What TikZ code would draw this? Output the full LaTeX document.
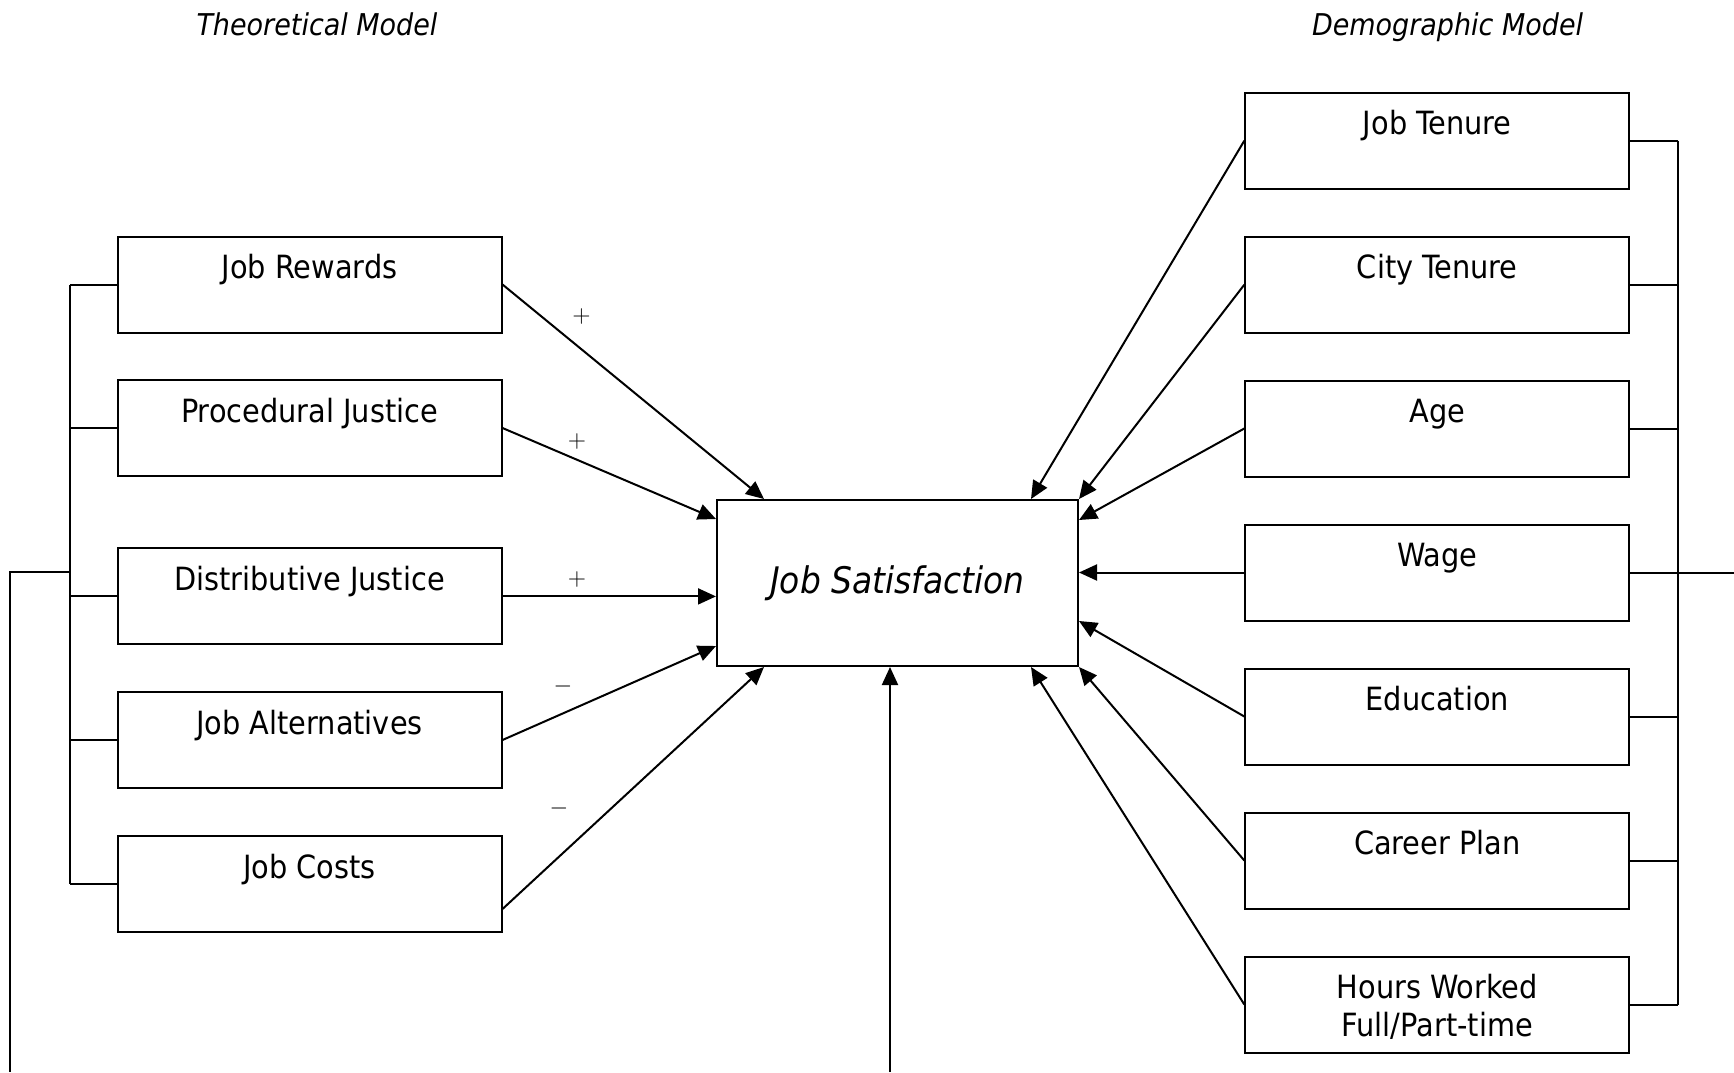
\documentclass[tikz,border=0pt]{standalone}
\usepackage{fontspec}
\setmainfont{DejaVu Sans Condensed}
\usepackage{tikz}
\usetikzlibrary{calc,positioning,arrows.meta}

\begin{document}
\begin{tikzpicture}[x=0.5pt, y=-0.5pt,
    box/.style={draw, line width=1pt, minimum width=192pt, inner sep=0pt, align=center,
        anchor=north, text height=21pt, text depth=27pt, font=\fontsize{16}{19}\selectfont},
    link/.style={line width=1pt},
    arr/.style={line width=1pt, -{Triangle[length=9pt, width=8pt]}},
    sign/.style={inner sep=0pt, font=\fontsize{13}{15}\selectfont}]
    \useasboundingbox (0,0) rectangle (1734,1072);

    % Parameters
    \def\xLeft{309.5}
    \def\xRight{1437.3}
    \coordinate (BrL) at (70,0);
    \coordinate (BrR) at (1678,0);

    % Titles
    \node[anchor=base, font=\itshape\fontsize{15}{18}\selectfont] (TTheo) at (317,35.7) {Theoretical Model};
    \node[anchor=base, font=\itshape\fontsize{15}{18}\selectfont] (TDemo) at (1447.6,35.7) {Demographic Model};

    % Centre node
    \node[draw, line width=1pt, minimum width=180.5pt, minimum height=83pt, inner sep=0pt,
        font=\itshape\fontsize{18.3}{22}\selectfont] (JS) at (897.5,583) {Job Satisfaction};

    % Theoretical nodes
    \foreach \top/\nm/\txt in {235.5/JR/Job Rewards, 379/PJ/Procedural Justice,
        547.4/DJ/Distributive Justice, 691/JA/Job Alternatives, 835/JC/Job Costs} {
        \node[box] (\nm) at (\xLeft,\top) {\txt};
    }

    % Demographic nodes
    \foreach \top/\nm/\txt in {91.7/JT/Job Tenure, 235.7/CT/City Tenure, 379.5/AG/Age,
        523.5/WG/Wage, 667.5/ED/Education, 811.5/CP/Career Plan} {
        \node[box] (\nm) at (\xRight,\top) {\txt};
    }
    \node[box, text height=40pt, text depth=8pt] (HW) at (\xRight,955.5) {Hours Worked\\Full/Part-time};

    % Signs
    \node[sign] (s1) at (581.5,316) {$+$};
    \node[sign] (s2) at (577,441) {$+$};
    \node[sign] (s3) at (577,579) {$+$};
    \node[sign] (s4) at (563,686) {$-$};
    \node[sign] (s5) at (559,808) {$-$};

    % Theoretical to satisfaction
    \draw[arr] (JR.east) -- ($(JS.north west)+(48,0)$);
    \draw[arr] (PJ.east) -- ($(JS.north west)+(0,20)$);
    \draw[arr] (DJ.east) -- (DJ.east -| JS.west);
    \draw[arr] (JA.east) -- ($(JS.south west)+(0,-21)$);
    \draw[arr] ($(JC.south east)+(0,-24)$) -- ($(JS.south west)+(48,0)$);

    % Demographic to satisfaction
    \draw[arr] (JT.west) -- ($(JS.north east)+(-48,0)$);
    \draw[arr] (CT.west) -- (JS.north east);
    \draw[arr] (AG.west) -- ($(JS.north east)+(0,21)$);
    \draw[arr] (WG.west) -- (WG.west -| JS.east);
    \draw[arr] (ED.west) -- ($(JS.south east)+(0,-46)$);
    \draw[arr] (CP.west) -- (JS.south east);
    \draw[arr] (HW.west) -- ($(JS.south east)+(-48,0)$);

    % Left bracket
    \foreach \nm in {JR,PJ,DJ,JA,JC} {
        \draw[link] (\nm.west) -- (\nm.west -| BrL);
    }
    \draw[link] (JR.west -| BrL) -- (JC.west -| BrL);
    \coordinate (LTap) at (70,572);
    \coordinate (LBot) at (10,1072);
    \draw[link] (LTap) -| (LBot);

    % Right bracket
    \foreach \nm in {JT,CT,AG,WG,ED,CP,HW} {
        \draw[link] (\nm.east) -- (\nm.east -| BrR);
    }
    \draw[link] (JT.east -| BrR) -- (HW.east -| BrR);
    \coordinate (RTail) at (1734,0);
    \draw[link] (WG.east -| BrR) -- (WG.east -| RTail);

    % Bottom input
    \coordinate (SBot) at (890,1072);
    \draw[arr] (SBot) -- (SBot |- JS.south);

\end{tikzpicture}
\end{document}
